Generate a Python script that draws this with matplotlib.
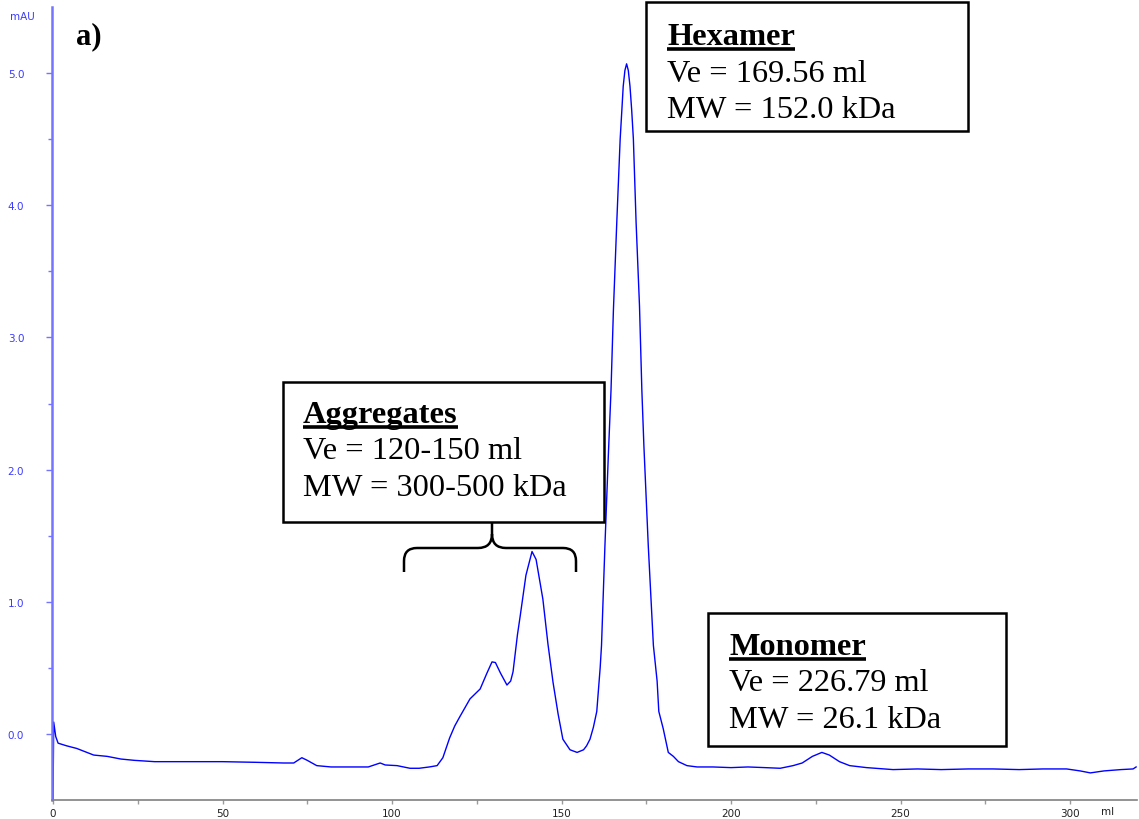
import numpy as np
import matplotlib
matplotlib.use('Agg')
import matplotlib.pyplot as plt
from matplotlib.path import Path
from matplotlib.patches import PathPatch, Rectangle
from matplotlib.transforms import Affine2D
from matplotlib.lines import Line2D

#
# Size exclusion chromatogram (UV trace) with peak annotations
#

# trace: elution volume (ml) and absorbance (mAU)
volume_ml = [0.0, 0.2, 0.8, 1.5, 4, 7, 10, 12, 16, 20, 24, 30, 35, 43, 50, 60, 68, 71, 73.4,
             75, 77.8, 82, 87.6, 93, 96.5, 98, 101.5, 105.3, 108, 111, 113.3, 115, 117,
             118.5, 120, 123, 126, 128, 129.5, 130.5, 132, 133.9, 135, 135.7, 137, 137.8,
             139.5, 141.3, 142.5, 144.5, 146, 147.5, 149, 150.4, 152.5, 154.6, 156.5, 157.4,
             158.4, 159.4, 160.4, 161.4, 161.8, 162.8, 163.8, 164.6, 165.3, 166.3, 167.3,
             167.8, 168.2, 168.7, 169.2, 169.7, 170.2, 170.7, 171.2, 172.0, 173.0, 173.7,
             174.3, 175.6, 177.1, 178.2, 178.7, 180, 181.5, 183, 184.5, 187, 190, 194.7, 200,
             205, 210, 214.5, 218.3, 221, 224, 226.8, 229, 232, 235, 240, 247.8, 255, 262,
             270, 277.3, 285, 292, 299, 303, 306, 310, 315, 318.6, 319.5]
absorbance_mau = [-0.5, 0.09, -0.02, -0.07, -0.09, -0.11, -0.14, -0.16, -0.17, -0.19, -0.2,
                  -0.21, -0.21, -0.21, -0.21, -0.215, -0.22, -0.22, -0.18, -0.2, -0.24, -0.25,
                  -0.25, -0.25, -0.22, -0.235, -0.24, -0.26, -0.26, -0.25, -0.24, -0.18, -0.03,
                  0.06, 0.13, 0.265, 0.34, 0.46, 0.545, 0.54, 0.46, 0.37, 0.40, 0.47, 0.75, 0.89,
                  1.2, 1.38, 1.32, 1.02, 0.68, 0.39, 0.15, -0.04, -0.12, -0.14, -0.12, -0.09,
                  -0.04, 0.05, 0.17, 0.5, 0.67, 1.42, 2.1, 2.6, 3.2, 3.87, 4.5,
                  4.72, 4.9, 5.02, 5.07, 5.02, 4.9, 4.72, 4.5, 3.87, 3.24, 2.6,
                  2.18, 1.42, 0.67, 0.4, 0.17, 0.04, -0.14, -0.17, -0.21, -0.24, -0.25, -0.25,
                  -0.255, -0.25, -0.255, -0.26, -0.24, -0.22, -0.17, -0.14, -0.16, -0.21, -0.24,
                  -0.255, -0.27, -0.265, -0.27, -0.265, -0.265, -0.27, -0.265, -0.265, -0.28,
                  -0.295, -0.28, -0.27, -0.265, -0.25]

xticks = [0, 50, 100, 150, 200, 250, 300]
xticklabels = ['0', '50', '100', '150', '200', '250', '300']
yticks = [0, 1, 2, 3, 4, 5]
yticklabels = ['0.0', '1.0', '2.0', '3.0', '4.0', '5.0']

# annotation boxes: title, volume line, weight line
peak_titles = ['Hexamer', 'Aggregates', 'Monomer']
peak_volumes = ['Ve = 169.56 ml', 'Ve = 120-150 ml', 'Ve = 226.79 ml']
peak_weights = ['MW = 152.0 kDa', 'MW = 300-500 kDa', 'MW = 26.1 kDa']

W, H = 1139, 820
fig = plt.figure(figsize=(W/100, H/100), dpi=100)
ax = fig.add_axes([52/W, 1-801/H, 1085/W, 793/H])

ax.plot(volume_ml, absorbance_mau, color='#0000ff', linewidth=1.0)

ax.set_xlim(-0.3, 319.76)
ax.set_ylim(-0.5, 5.5)
ax.set_xticks(xticks)
ax.set_xticklabels(xticklabels)
ax.set_xticks(np.arange(25, 320, 50), minor=True)
ax.set_yticks(yticks)
ax.set_yticklabels(yticklabels)
ax.set_yticks(np.arange(0.5, 5.5, 1.0), minor=True)

for s in ['top', 'right']:
    ax.spines[s].set_visible(False)
ax.spines['left'].set_color('#7474ff')
ax.spines['left'].set_linewidth(1.8)
ax.spines['bottom'].set_color('#808080')
ax.spines['bottom'].set_linewidth(1.2)

ax.tick_params(axis='y', which='both', colors='#7474ff', labelcolor='#3a3aff',
               labelsize=7.5, pad=16, width=1)
ax.tick_params(axis='y', which='major', length=4)
ax.tick_params(axis='y', which='minor', length=3)
ax.tick_params(axis='x', which='both', colors='#9a9a9a', labelcolor='#222222',
               labelsize=7.5, pad=3, length=3, width=1)

# pixel coordinates (from the top left of the picture) -> figure
to_fig = Affine2D().scale(1/W, -1/H).translate(0, 1) + fig.transFigure

fig.text(22, 17, 'mAU', transform=to_fig, fontsize=7.5, color='#3a3aff',
         ha='center', va='center', family='DejaVu Sans')
fig.text(1108, 812, 'ml', transform=to_fig, fontsize=7.5, color='#222222',
         ha='center', va='center', family='DejaVu Sans')
fig.text(76, 44, 'a)', transform=to_fig, fontsize=22, fontweight='bold',
         family='Liberation Serif', ha='left', va='baseline')

# box rectangles (left, top, right, bottom) and first baseline
boxes = [(646, 3, 968, 132), (283, 383, 604, 523), (708, 614, 1006, 747)]
first_base = [45, 423, 655]
text_left = [667, 303, 729]
line_step = 36.5

titles = []
for i in range(3):
    l, t, r, b = boxes[i]
    fig.patches.append(Rectangle((l, t), r-l, b-t, transform=to_fig, fill=True,
                                 facecolor='white', edgecolor='black', linewidth=1.8,
                                 zorder=3))
    y0 = first_base[i]
    titles.append(fig.text(text_left[i], y0, peak_titles[i], transform=to_fig,
                           fontsize=23.3, fontweight='bold', family='Liberation Serif',
                           ha='left', va='baseline', zorder=4))
    fig.text(text_left[i], y0+line_step, peak_volumes[i], transform=to_fig,
             fontsize=23.3, family='Liberation Serif', ha='left', va='baseline', zorder=4)
    fig.text(text_left[i], y0+2*line_step, peak_weights[i], transform=to_fig,
             fontsize=23.3, family='Liberation Serif', ha='left', va='baseline', zorder=4)

# underline the titles
fig.canvas.draw()
for i, t in enumerate(titles):
    bb = t.get_window_extent()
    yu = first_base[i] + 4.5
    fig.lines.append(Line2D([bb.x0/W, bb.x1/W], [1-yu/H, 1-yu/H],
                            transform=fig.transFigure, color='black',
                            linewidth=2.6, solid_capstyle='butt', zorder=4))

# curly brace under the aggregates box
verts = [(404, 573), (404, 562), (404, 549), (417, 549), (478, 549), (492, 549), (492, 535),
         (492, 524), (492, 535), (492, 549), (506, 549), (563, 549), (576, 549), (576, 562),
         (576, 573)]
codes = [Path.MOVETO, Path.LINETO, Path.CURVE3, Path.CURVE3, Path.LINETO, Path.CURVE3,
         Path.CURVE3, Path.LINETO, Path.MOVETO, Path.CURVE3, Path.CURVE3, Path.LINETO,
         Path.CURVE3, Path.CURVE3, Path.LINETO]
fig.patches.append(PathPatch(Path(verts, codes), transform=to_fig, fill=False,
                             edgecolor='black', linewidth=1.8, zorder=3))

fig.savefig('out.png', dpi=100, facecolor='white')
